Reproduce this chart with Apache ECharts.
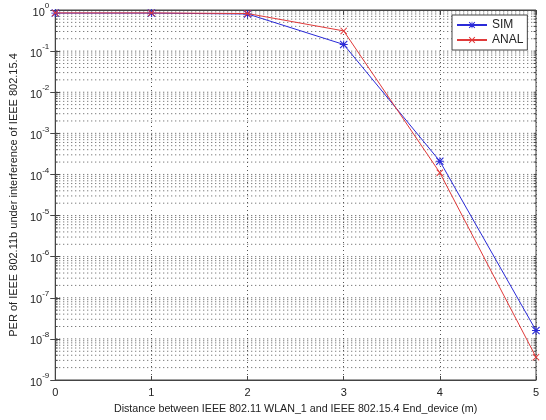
<!DOCTYPE html>
<html><head><meta charset="utf-8">
<script src="https://cdn.jsdelivr.net/npm/echarts@6/dist/echarts.min.js"></script>
<style>html,body{margin:0;padding:0;background:#fff}#c{width:546px;height:420px}</style>
</head><body><div id="c"></div>
<script>
const distances = [0, 1, 2, 3, 4, 5];
const simValues = [0.84, 0.84, 0.80, 0.145, 2.1e-4, 1.6e-8];
const analValues = [0.85, 0.85, 0.82, 0.31, 1.1e-4, 3.6e-9];
const xTickLabels = ['0', '1', '2', '3', '4', '5'];
const yDecadeExps = [0, -1, -2, -3, -4, -5, -6, -7, -8, -9];
const minorMultipliers = [1, 2, 3, 4, 5, 6, 7, 8, 9];

const gridLevels = [];
yDecadeExps.forEach(e => {
  if (e === 0) return;
  minorMultipliers.forEach(m => {
    const v = m * Math.pow(10, e);
    if (v > 1e-9 * 1.0001) gridLevels.push(v);
  });
});
const xMin = distances[0], xMax = distances[distances.length - 1];
const gridData = [];
gridLevels.forEach(v => { gridData.push([xMin, v], [xMax, v], '-'); });
const minorTickLen = 0.025;
const minorTickData = [];
gridLevels.forEach(v => {
  minorTickData.push([xMin, v], [xMin + minorTickLen, v], '-');
  minorTickData.push([xMax - minorTickLen, v], [xMax, v], '-');
});

const font = 'Liberation Sans';
const crossPath = 'path://M0,1 L1,0 L5,4 L9,0 L10,1 L6,5 L10,9 L9,10 L5,6 L1,10 L0,9 L4,5 Z';
const starPath = 'path://M0,1 L1,0 L5,4 L9,0 L10,1 L6,5 L10,9 L9,10 L5,6 L1,10 L0,9 L4,5 Z M4.4,0 L5.6,0 L5.6,10 L4.4,10 Z M0,4.4 L10,4.4 L10,5.6 L0,5.6 Z';

const chart = echarts.init(document.getElementById('c'), null, { renderer: 'canvas' });
const dotted = { color: '#555', width: 1, type: [1, 3] };
const yLabel = {
  fontFamily: font, color: '#222', margin: 6,
  formatter: v => '{a|10}{b|' + Math.round(Math.log10(v)) + '}',
  rich: {
    a: { fontSize: 11, fontFamily: font, color: '#222', lineHeight: 16, verticalAlign: 'bottom' },
    b: { fontSize: 8, fontFamily: font, color: '#222', lineHeight: 16, verticalAlign: 'top' }
  }
};
chart.setOption({
  animation: false,
  backgroundColor: '#fff',
  grid: { left: 55, right: 10, top: 10, bottom: 34, show: true, borderColor: '#444', borderWidth: 1, backgroundColor: '#fff' },
  legend: {
    orient: 'vertical', left: 452, top: 15,
    backgroundColor: '#fff', borderColor: '#444', borderWidth: 1,
    padding: [4, 4, 4, 4], itemGap: 3, itemWidth: 30, itemHeight: 8,
    textStyle: { fontFamily: font, fontSize: 12, color: '#222' },
    data: ['SIM', 'ANAL']
  },
  xAxis: [{
    type: 'value', min: 0, max: 5, interval: 1,
    name: 'Distance between IEEE 802.11 WLAN_1 and IEEE 802.15.4 End_device (m)',
    nameLocation: 'middle', nameGap: 24,
    nameTextStyle: { fontFamily: font, fontSize: 10.7, color: '#222' },
    axisLine: { show: true, lineStyle: { color: '#444' } },
    axisTick: { show: true, inside: true, length: 4, lineStyle: { color: '#444' } },
    axisLabel: { fontFamily: font, fontSize: 11, color: '#222', margin: 7, formatter: v => xTickLabels[v] },
    splitLine: { show: true, lineStyle: dotted }
  }, {
    type: 'value', min: 0, max: 5, interval: 1, position: 'top',
    axisLine: { show: true, lineStyle: { color: '#444' } },
    axisTick: { show: true, inside: true, length: 4, lineStyle: { color: '#444' } },
    axisLabel: { show: false }, splitLine: { show: false }
  }],
  yAxis: [{
    type: 'log', logBase: 10, min: 1e-9, max: 1,
    name: 'PER of IEEE 802.11b under interference of IEEE 802.15.4',
    nameLocation: 'middle', nameGap: 36, nameRotate: 90,
    nameTextStyle: { fontFamily: font, fontSize: 11, color: '#222' },
    axisLine: { show: true, lineStyle: { color: '#444' } },
    axisTick: { show: true, inside: true, length: 5, lineStyle: { color: '#444' } },
    axisLabel: yLabel,
    splitLine: { show: false }
  }, {
    type: 'log', logBase: 10, min: 1e-9, max: 1, position: 'right',
    axisLine: { show: true, lineStyle: { color: '#444' } },
    axisTick: { show: true, inside: true, length: 5, lineStyle: { color: '#444' } },
    axisLabel: { show: false }, splitLine: { show: false }
  }],
  series: [{
    name: 'grid', type: 'line', data: gridData, silent: true,
    symbol: 'none', connectNulls: false,
    lineStyle: dotted, z: 1, tooltip: { show: false }
  }, {
    name: 'minorTicks', type: 'line', data: minorTickData, silent: true,
    symbol: 'none', connectNulls: false,
    lineStyle: { color: '#444', width: 1 }, z: 2, tooltip: { show: false }
  }, {
    name: 'SIM', type: 'line',
    data: distances.map((d, i) => [d, simValues[i]]),
    lineStyle: { color: '#2a2ad8', width: 1 }, itemStyle: { color: '#2a2ad8' },
    symbol: starPath, symbolSize: 8, showAllSymbol: true, z: 3
  }, {
    name: 'ANAL', type: 'line',
    data: distances.map((d, i) => [d, analValues[i]]),
    lineStyle: { color: '#e03a3a', width: 1 }, itemStyle: { color: '#e03a3a' },
    symbol: crossPath, symbolSize: 7, showAllSymbol: true, z: 4
  }]
});
</script></body></html>
